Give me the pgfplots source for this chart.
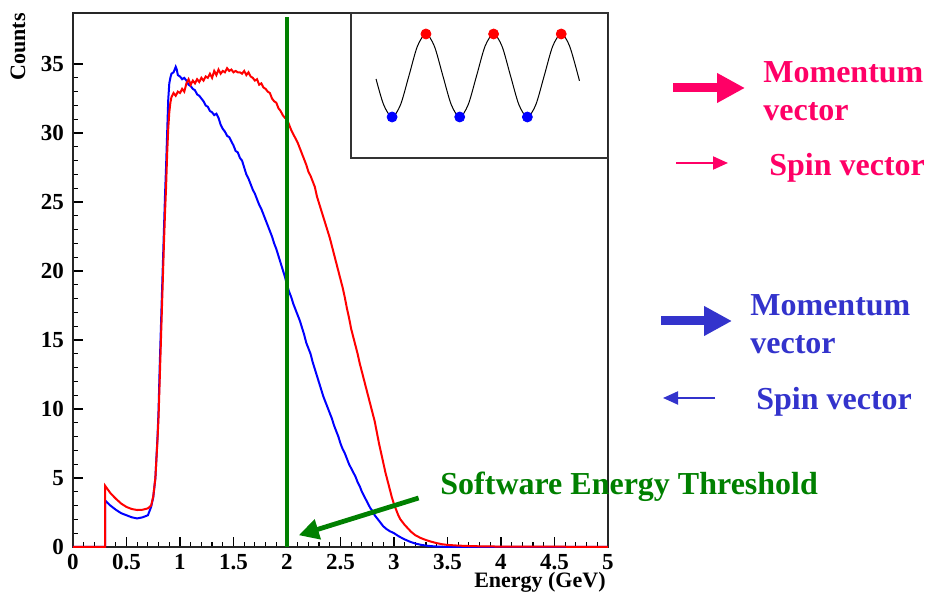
\documentclass[border=0pt]{standalone}
\usepackage{fontspec}
\setmainfont{Liberation Serif}
\usepackage{pgfplots}
\pgfplotsset{compat=1.18}
\usetikzlibrary{arrows.meta}

\definecolor{pinkv}{RGB}{255,0,102}
\definecolor{bluev}{RGB}{51,51,204}
\definecolor{thrgreen}{RGB}{0,128,0}

\begin{document}
\begin{tikzpicture}
\path[use as bounding box] (-36.5pt,-23pt) rectangle (426.5pt,273.5pt);

\begin{axis}[
    at={(0,0)}, anchor=south west,
    width=267.5pt, height=267pt, scale only axis,
    xmin=0, xmax=5, ymin=0, ymax=38.7,
    xtick={0,0.5,...,5}, ytick={0,5,...,35},
    minor x tick num=4, minor y tick num=4,
    xtick pos=bottom, ytick pos=left,
    tick align=inside,
    major tick length=5pt, minor tick length=2.5pt,
    every tick/.style={black, line width=0.6pt},
    axis line style={black!85, line width=0.6pt},
    /pgf/number format/assume math mode=true,
    ticklabel style={font=\bfseries\fontsize{11.5}{12}\selectfont},
    yticklabel style={xshift=-1pt},
    clip=false,
]
% blue histogram
\addplot[blue, line width=1pt] coordinates {
(0,0) (0.30,0) (0.30,3.37) (0.35,3.0) (0.40,2.7) (0.45,2.45) (0.50,2.3) (0.55,2.15)
(0.60,2.07) (0.65,2.15) (0.70,2.3) (0.73,2.9) (0.75,3.6) (0.77,5) (0.79,8) (0.80,10)
(0.81,13) (0.82,15.5) (0.83,18) (0.84,20.5) (0.85,23) (0.86,25.5) (0.87,27.6) (0.88,30)
(0.89,32.4) (0.90,33.6) (0.91,34.0) (0.92,34.3) (0.94,34.4) (0.96,34.8) (0.97,34.6)
(0.98,34.2) (1.00,34.1) (1.02,33.9) (1.04,34.0) (1.06,33.8) (1.08,33.5) (1.10,33.4)
(1.12,33.2) (1.14,33.1) (1.16,32.8) (1.18,32.7) (1.20,32.5) (1.22,32.3) (1.24,32.0)
(1.26,31.9) (1.28,31.6) (1.30,31.5) (1.32,31.3) (1.34,31.4) (1.36,31.1) (1.38,30.6)
(1.40,30.3) (1.42,30.1) (1.44,29.8) (1.46,29.7) (1.48,29.4) (1.50,29.1) (1.52,28.7)
(1.54,28.6) (1.56,28.2) (1.58,28.0) (1.60,27.5) (1.62,27.0) (1.64,26.7) (1.66,26.3)
(1.68,25.9) (1.70,25.6) (1.72,25.2) (1.74,24.8) (1.76,24.5) (1.78,24.1) (1.80,23.7)
(1.82,23.3) (1.84,22.9) (1.86,22.5) (1.88,22.0) (1.90,21.6) (1.92,21.1) (1.94,20.6)
(1.96,20.1) (1.98,19.6) (2.00,19.0) (2.02,18.5) (2.04,18.1) (2.06,17.6) (2.08,17.2)
(2.10,16.8) (2.12,16.4) (2.14,15.9) (2.16,15.4) (2.18,14.8) (2.20,14.4) (2.22,14.0)
(2.24,13.4) (2.26,12.9) (2.28,12.4) (2.30,11.9) (2.32,11.4) (2.34,10.9) (2.36,10.5)
(2.38,10.1) (2.40,9.7) (2.42,9.3) (2.44,8.8) (2.46,8.4) (2.48,8.0) (2.50,7.5)
(2.52,7.1) (2.54,6.8) (2.56,6.4) (2.58,6.0) (2.60,5.7) (2.62,5.4) (2.64,5.1)
(2.66,4.7) (2.68,4.4) (2.70,4.0) (2.72,3.7) (2.74,3.4) (2.76,3.1) (2.78,2.8)
(2.80,2.6) (2.82,2.3) (2.84,2.1) (2.86,1.9) (2.88,1.7) (2.90,1.5) (2.93,1.3)
(2.96,1.15) (3.00,1.0) (3.05,0.75) (3.10,0.55) (3.15,0.38) (3.20,0.25) (3.25,0.16)
(3.30,0.10) (3.35,0.06) (3.40,0.03) (3.50,0.01) (3.60,0) (5,0)
};
% red histogram
\addplot[red, line width=1pt] coordinates {
(0,0) (0.30,0) (0.30,4.44) (0.35,3.9) (0.40,3.5) (0.45,3.15) (0.50,2.9) (0.55,2.75)
(0.60,2.68) (0.65,2.7) (0.70,2.8) (0.73,3.0) (0.75,3.66) (0.77,5) (0.79,7.8) (0.80,9.5)
(0.81,12) (0.82,14.5) (0.83,17) (0.84,19.5) (0.85,22) (0.86,24.2) (0.87,26.1) (0.88,28.5)
(0.89,30.3) (0.90,31.5) (0.91,32.2) (0.92,32.6) (0.94,32.9) (0.96,32.7) (0.98,33.0)
(1.00,32.9) (1.02,33.2) (1.04,33.0) (1.06,33.6) (1.08,33.9) (1.10,33.5) (1.12,33.8)
(1.14,33.6) (1.16,33.9) (1.18,33.7) (1.20,34.0) (1.22,33.8) (1.24,34.1) (1.26,34.0)
(1.28,34.3) (1.30,34.0) (1.32,34.5) (1.34,34.2) (1.36,34.6) (1.38,34.3) (1.40,34.5)
(1.42,34.4) (1.44,34.7) (1.46,34.5) (1.48,34.6) (1.50,34.4) (1.52,34.5) (1.54,34.4)
(1.56,34.4) (1.58,34.3) (1.60,34.5) (1.62,34.2) (1.64,34.4) (1.66,34.1) (1.68,34.0)
(1.70,33.8) (1.72,33.9) (1.74,33.5) (1.76,33.6) (1.78,33.3) (1.80,33.2) (1.82,33.0)
(1.84,32.9) (1.86,32.5) (1.88,32.3) (1.90,32.2) (1.92,31.8) (1.94,31.6) (1.96,31.3)
(1.98,31.1) (2.00,31.0) (2.02,30.6) (2.04,30.2) (2.06,29.9) (2.08,29.6) (2.10,29.3)
(2.12,28.9) (2.14,28.5) (2.16,28.1) (2.18,27.7) (2.20,27.2) (2.22,26.9) (2.24,26.5)
(2.26,26.1) (2.28,25.4) (2.30,24.9) (2.32,24.4) (2.34,23.9) (2.36,23.4) (2.38,22.9)
(2.40,22.4) (2.42,21.8) (2.44,21.2) (2.46,20.6) (2.48,20.0) (2.50,19.4) (2.52,18.8)
(2.54,18.1) (2.56,17.3) (2.58,16.6) (2.60,15.8) (2.62,15.2) (2.64,14.6) (2.66,14.0)
(2.68,13.3) (2.70,12.7) (2.72,12.1) (2.74,11.5) (2.76,10.9) (2.78,10.3) (2.80,9.7)
(2.82,9.1) (2.84,8.3) (2.86,7.5) (2.88,6.8) (2.90,6.1) (2.92,5.4) (2.94,4.8)
(2.96,4.2) (2.98,3.6) (3.00,3.1) (3.02,2.7) (3.04,2.3) (3.06,2.0) (3.08,1.8)
(3.10,1.6) (3.13,1.35) (3.16,1.1) (3.20,0.85) (3.25,0.65) (3.30,0.5) (3.35,0.38)
(3.40,0.28) (3.45,0.2) (3.50,0.15) (3.60,0.1) (3.70,0.07) (3.80,0.05) (4.00,0.03)
(4.50,0.02) (5.00,0.01)
};
% threshold line
\addplot[thrgreen, line width=2pt] coordinates {(2,0) (2,38.4)};
\draw[thrgreen, line width=2.4pt, -{Triangle[length=10pt,width=10pt]}]
    (axis cs:3.23,3.55) -- (axis cs:2.11,0.85);
\end{axis}

% inset
\begin{axis}[
    at={(139pt,194.5pt)}, anchor=south west,
    width=128.5pt, height=72.5pt, scale only axis,
    xmin=0, xmax=257, ymin=0, ymax=145,
    ticks=none,
    axis line style={black!80, line width=0.6pt},
]
\addplot[black, line width=0.5pt, smooth] coordinates {
(25,79) (32.6,53.2) (41,41) (49.4,53.2) (57.9,82.5) (66.3,111.8) (74.8,124)
(83.2,111.8) (91.6,82.5) (100.1,53.2) (108.5,41) (116.9,53.2) (125.4,82.5)
(133.8,111.8) (142.3,124) (150.7,111.8) (159.1,82.5) (167.6,53.2) (176,41)
(184.4,53.2) (192.9,82.5) (201.3,111.8) (209.8,124) (218.2,111.8) (228,77.2)
};
\addplot[only marks, mark=*, mark size=2.5pt, red] coordinates {(74.8,124) (142.3,124) (209.8,124)};
\addplot[only marks, mark=*, mark size=2.5pt, blue] coordinates {(41,41) (108.5,41) (176,41)};
\end{axis}

% axis titles
\node[font=\bfseries\fontsize{11}{12}\selectfont, anchor=east, inner sep=0pt] at (266.5pt,-17.5pt) {Energy (GeV)};
\node[font=\bfseries\fontsize{11}{12}\selectfont, rotate=90, anchor=east, inner sep=0pt] at (-27.5pt,267pt) {Counts};

% threshold label
\node[font=\bfseries\fontsize{16}{19}\selectfont, text=thrgreen, anchor=west, inner sep=0pt] at (183.5pt,30pt) {Software Energy Threshold};

% pink vectors
\draw[pinkv, line width=4.5pt, -{Triangle[length=14pt,width=14pt]}] (300pt,229.5pt) -- (336pt,229.5pt);
\draw[pinkv, line width=1pt, -{Triangle[length=7.5pt,width=6.5pt]}] (301.5pt,192pt) -- (327.5pt,192pt);
\node[font=\bfseries\fontsize{16}{19}\selectfont, text=pinkv, anchor=west, align=left, inner sep=0pt] at (345pt,228pt) {Momentum\\vector};
\node[font=\bfseries\fontsize{16}{19}\selectfont, text=pinkv, anchor=west, inner sep=0pt] at (348pt,189.5pt) {Spin vector};

% blue vectors
\draw[bluev, line width=4.5pt, -{Triangle[length=14pt,width=14pt]}] (294pt,113pt) -- (329.5pt,113pt);
\draw[bluev, line width=1pt, -{Triangle[length=7.5pt,width=6.5pt]}] (321pt,74.5pt) -- (295pt,74.5pt);
\node[font=\bfseries\fontsize{16}{19}\selectfont, text=bluev, anchor=west, align=left, inner sep=0pt] at (338.5pt,111.25pt) {Momentum\\vector};
\node[font=\bfseries\fontsize{16}{19}\selectfont, text=bluev, anchor=west, inner sep=0pt] at (341.5pt,72.5pt) {Spin vector};
\end{tikzpicture}
\end{document}
